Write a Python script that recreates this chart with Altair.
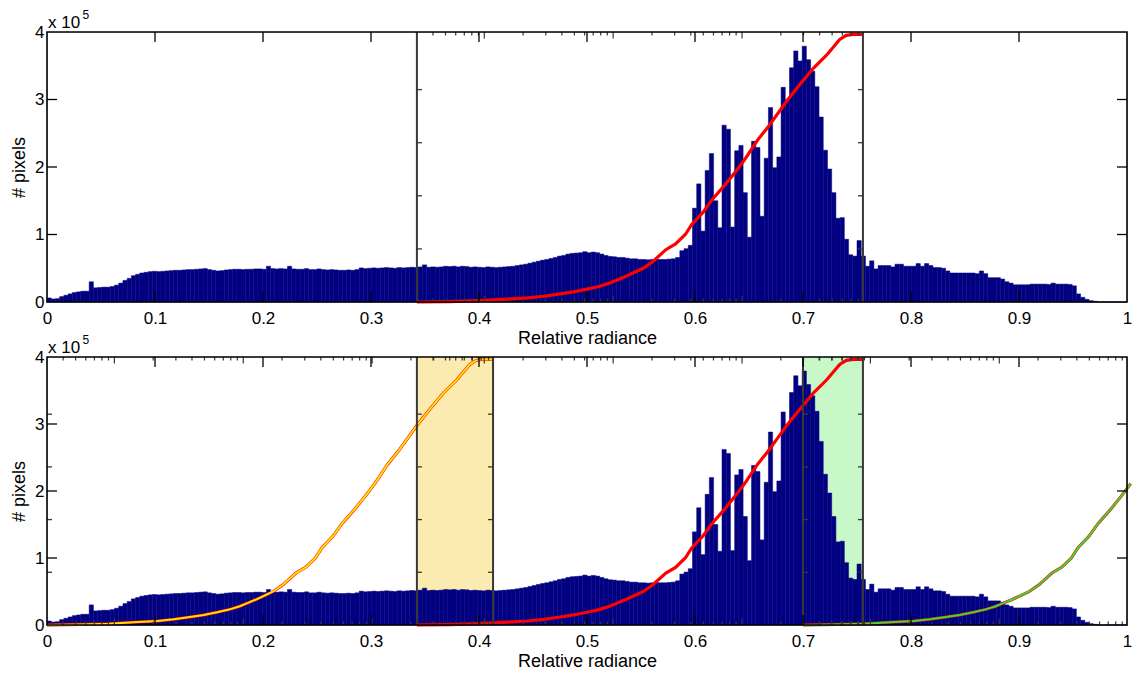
import math
import altair as alt
import pandas as pd

# ---------------- data ----------------
N_BINS = 256
# histogram counts per bin, in thousands of pixels (bins of width 1/256 on [0, 1])
HIST_COUNTS_K = [
    6, 4.5, 5, 8, 10, 12, 14, 15, 16, 16,
    30, 21, 21.5, 22, 22, 23, 25, 28, 32, 35,
    39, 41, 43, 44, 45, 45.5, 45, 45.5, 46, 46.5,
    47, 47, 47.5, 48, 48, 48.5, 49, 49.5, 48, 47,
    46, 46.5, 47.5, 48, 48.5, 48.5, 48, 48.5, 48.5, 49,
    49, 48.5, 53, 49.5, 49, 49.5, 49, 53, 49, 48.5,
    48.5, 49.5, 48, 48, 49, 48, 47.5, 48, 47.5, 47,
    47, 47.5, 47, 48, 50.5, 49.5, 50, 50.5, 50, 50.5,
    51, 50.5, 50, 51, 50.5, 51, 51.5, 51, 52, 55,
    51.5, 52, 51.5, 52, 53, 52.5, 53, 52, 53, 52.5,
    51.5, 52, 51.5, 51, 52, 51.5, 51, 51.5, 52, 52.5,
    53, 54, 55, 56, 57.5, 59, 60.5, 62, 63, 64.5,
    66, 68, 69, 71, 72, 72.5, 73, 74.5, 73, 74,
    73, 71, 69, 67.5, 67, 66, 66, 65, 64, 64,
    63, 63, 62.5, 63, 63, 63, 63, 63.5, 64, 66,
    76, 79, 84, 139, 175, 105, 195, 220, 150, 110,
    262, 256, 111, 224, 232, 162, 96, 238, 229, 127,
    213, 288, 199, 215, 318, 299, 347, 372, 357, 379,
    359, 342, 319, 274, 225, 197, 162, 124, 125, 93,
    70, 68, 91, 68, 53, 61, 49, 54, 54, 54,
    52, 56, 56, 53, 53, 53, 57, 53, 57, 54,
    51, 51, 50, 46, 43, 43, 43, 43, 43, 43,
    42, 46, 42, 36, 36, 36, 34, 30, 28, 25.5,
    25.5, 25.5, 25.5, 26.5, 26.5, 26.5, 26.5, 26, 28, 26.5,
    26.5, 26.5, 26, 24, 12, 7, 4, 2, 1, 0,
    0, 0, 0, 0, 0, 0,
]

# cumulative curve drawn inside each inset: offset from the inset's left edge
# (in relative-radiance units) and height in thousands of pixels
CURVE_U = [0, 0.03, 0.0575, 0.08, 0.1025, 0.1175, 0.1325, 0.145, 0.1575, 0.1685,
           0.1785, 0.186, 0.1935, 0.2015, 0.2095, 0.2185, 0.2305, 0.2395, 0.2485, 0.2545,
           0.2645, 0.2735, 0.2855, 0.2945, 0.3035, 0.3155, 0.3255, 0.3345, 0.3435, 0.3555,
           0.3675, 0.3795, 0.3915, 0.3975, 0.404, 0.413]
CURVE_K = [0, 0.7, 2, 4, 6, 8.5, 12, 15, 19, 23,
           28, 33, 38, 44, 50, 60, 77.5, 86, 100, 115,
           132, 152, 174, 192, 211, 240, 260, 280, 300, 324,
           347, 366, 389, 395, 396.5, 396.5]

X_TICKS = [0, 0.1, 0.2, 0.3, 0.4, 0.5, 0.6, 0.7, 0.8, 0.9, 1]
Y_TICKS_K = [0, 100, 200, 300, 400]
INNER_X_TICKS = [0.1, 0.2, 0.3, 0.4, 0.5, 0.6, 0.7, 0.8, 0.9]
INNER_Y_TICKS_K = [100, 200, 300]

# inset axes (log x axis, linear 0..1 y axis)
INSET_WIDTH = 0.413
INSET_LOG_DOMAIN = [0.3, 867]
INSET_Y_MAX = 1.017
INSET_Y_TICKS = [0.2, 0.4, 0.6, 0.8]
INSET_LOG_MINOR = [0.3, 0.4, 0.5, 0.6, 0.7, 0.8, 0.9,
                   2, 3, 4, 5, 6, 7, 8, 9,
                   20, 30, 40, 50, 60, 70, 80, 90,
                   200, 300, 400, 500, 600, 700, 800]
INSET_LOG_MAJOR = [1, 10, 100]
TOP_INSET_ORIGINS = [0.3425]
BOTTOM_INSET_ORIGINS = [0.0, 0.3425, 0.70]

SHADE_X0 = [0.3425, 0.70]
SHADE_X1 = [0.413, 0.7555]

# ---------------- style ----------------
FONT = "Liberation Sans"
NAVY = "#000080"
GRAY = "#383838"
SHADE_COLORS = ["#FCEBB0", "#C8F7C8"]
W = 1080
H_TOP = 270
H_BOT = 268
MAIN_TICK = 10
INSET_TICK = 5
LOG_MINOR_LEN = 3.5
LOG_MAJOR_LEN = 6.5

XS = alt.Scale(domain=[0, 1], nice=False, zero=False)
YS = alt.Scale(domain=[0, 400], nice=False, zero=True)


def inset_x(origin, t):
    lo, hi = (math.log10(v) for v in INSET_LOG_DOMAIN)
    return origin + INSET_WIDTH * (math.log10(t) - lo) / (hi - lo)


def xq(field):
    return alt.X(f"{field}:Q", scale=XS)


def yq(field):
    return alt.Y(f"{field}:Q", scale=YS)


def curve_df(origin, xmax=None):
    xs = [origin + u for u in CURVE_U]
    df = pd.DataFrame({"x": xs, "v": CURVE_K})
    if xmax is not None:
        df = df[df["x"] <= xmax]
    return df


def panel(h, origins, shading, overlays):
    layers = []
    if shading:
        sdf = pd.DataFrame({"x0": SHADE_X0, "x1": SHADE_X1, "c": SHADE_COLORS})
        layers.append(
            alt.Chart(sdf).mark_rect().encode(
                x=xq("x0"), x2="x1:Q", y=alt.value(0), y2=alt.value(h),
                color=alt.Color("c:N", scale=None))
        )
    hist = pd.DataFrame({
        "x0": [i / N_BINS for i in range(N_BINS)],
        "x1": [(i + 1) / N_BINS for i in range(N_BINS)],
        "count": HIST_COUNTS_K,
    })
    xaxis = alt.Axis(values=X_TICKS, format=".1~f", ticks=False, domain=False, grid=False,
                     labelFont=FONT, labelFontSize=17, labelColor="black", labelPadding=8,
                     labelFlush=False, labelOverlap=False,
                     title="Relative radiance", titleFont=FONT, titleFontSize=18,
                     titleFontWeight="normal", titleColor="black", titlePadding=3)
    yaxis = alt.Axis(values=Y_TICKS_K, labelExpr="datum.value / 100", ticks=False, domain=False,
                     grid=False, labelFont=FONT, labelFontSize=17, labelColor="black",
                     labelPadding=3, labelFlush=False, labelOverlap=False,
                     title="# pixels", titleFont=FONT, titleFontSize=18,
                     titleFontWeight="normal", titleColor="black", titlePadding=6)
    layers.append(
        alt.Chart(hist).mark_rect(color=NAVY, stroke=NAVY, strokeWidth=0.5).encode(
            x=alt.X("x0:Q", scale=XS, axis=xaxis), x2="x1:Q",
            y=alt.Y("count:Q", scale=YS, axis=yaxis), y2=alt.datum(0))
    )
    # cumulative curves
    for origin, xmax, over in overlays:
        cdf = curve_df(origin, xmax)
        layers.append(alt.Chart(cdf).mark_line(color="#FF0000", strokeWidth=3 if over else 3.2,
                                               clip=False)
                      .encode(x=xq("x"), y=yq("v")))
        if over:
            layers.append(alt.Chart(cdf).mark_line(color=over, strokeWidth=2.0, clip=False)
                          .encode(x=xq("x"), y=yq("v")))
    # inset frames
    edges = sorted({round(o, 4) for o in origins if o > 0} |
                   {round(o + INSET_WIDTH, 4) for o in origins if o + INSET_WIDTH < 1})
    layers.append(alt.Chart(pd.DataFrame({"e": edges})).mark_rule(color=GRAY, strokeWidth=2)
                  .encode(x=xq("e")))
    # inset y ticks (left edges point right, right edges point left)
    yt = [t / INSET_Y_MAX * 400 for t in INSET_Y_TICKS]
    left_df = pd.DataFrame([{"e": o, "v": v} for o in origins for v in yt])
    right_df = pd.DataFrame([{"e": o + INSET_WIDTH, "v": v} for o in origins for v in yt
                             if o + INSET_WIDTH < 1])
    layers.append(alt.Chart(left_df).mark_rule(color=GRAY, strokeWidth=1.3, x2Offset=INSET_TICK)
                  .encode(x=xq("e"), x2="e:Q", y=yq("v")))
    layers.append(alt.Chart(right_df).mark_rule(color=GRAY, strokeWidth=1.3, x2Offset=-INSET_TICK)
                  .encode(x=xq("e"), x2="e:Q", y=yq("v")))
    # inset log x ticks on top and bottom edges
    for ticks, ln in ((INSET_LOG_MINOR, LOG_MINOR_LEN), (INSET_LOG_MAJOR, LOG_MAJOR_LEN)):
        xs = [inset_x(o, t) for o in origins for t in ticks]
        tdf = pd.DataFrame({"x": [x for x in xs if 0 < x < 1]})
        layers.append(alt.Chart(tdf).mark_rule(color=GRAY, strokeWidth=1.2)
                      .encode(x=xq("x"), y=alt.value(0), y2=alt.value(ln)))
        layers.append(alt.Chart(tdf).mark_rule(color=GRAY, strokeWidth=1.2)
                      .encode(x=xq("x"), y=alt.value(h - ln), y2=alt.value(h)))
    # main axis ticks, pointing inward on all four sides
    mx = pd.DataFrame({"x": INNER_X_TICKS})
    my = pd.DataFrame({"v": INNER_Y_TICKS_K})
    layers.append(alt.Chart(mx).mark_rule(color="black", strokeWidth=1.3)
                  .encode(x=xq("x"), y=alt.value(0), y2=alt.value(MAIN_TICK)))
    layers.append(alt.Chart(mx).mark_rule(color="black", strokeWidth=1.3)
                  .encode(x=xq("x"), y=alt.value(h - MAIN_TICK), y2=alt.value(h)))
    layers.append(alt.Chart(my).mark_rule(color="black", strokeWidth=1.3)
                  .encode(y=yq("v"), x=alt.value(0), x2=alt.value(MAIN_TICK)))
    layers.append(alt.Chart(my).mark_rule(color="black", strokeWidth=1.3)
                  .encode(y=yq("v"), x=alt.value(W - MAIN_TICK), x2=alt.value(W)))
    # frame
    one = alt.Data(values=[{"a": 1}])
    layers.append(alt.Chart(one).mark_rect(filled=False, stroke="black", strokeWidth=1.6)
                  .encode(x=alt.value(0), x2=alt.value(W), y=alt.value(0), y2=alt.value(h)))
    # exponent label
    layers.append(alt.Chart(alt.Data(values=[{"t": "x 10"}])).mark_text(
        align="left", baseline="alphabetic", font=FONT, fontSize=17, color="black")
        .encode(x=alt.value(1), y=alt.value(-4), text="t:N"))
    layers.append(alt.Chart(alt.Data(values=[{"t": "5"}])).mark_text(
        align="left", baseline="alphabetic", font=FONT, fontSize=12, color="black")
        .encode(x=alt.value(35.5), y=alt.value(-13), text="t:N"))
    return alt.layer(*layers).properties(width=W, height=h)


top = panel(H_TOP, TOP_INSET_ORIGINS, False, [(0.3425, None, None)])
bottom = panel(H_BOT, BOTTOM_INSET_ORIGINS, True,
               [(0.3425, None, None), (0.0, None, "#FFE000"), (0.70, 1.005, "#33DD33")])

chart = alt.vconcat(top, bottom, spacing=55, bounds="flush").properties(
    padding={"left": 2, "top": 0, "right": 0, "bottom": 0}
).configure_view(stroke=None).configure(background="white")

chart.save("out.html", embed_options={"renderer": "svg", "actions": False})
